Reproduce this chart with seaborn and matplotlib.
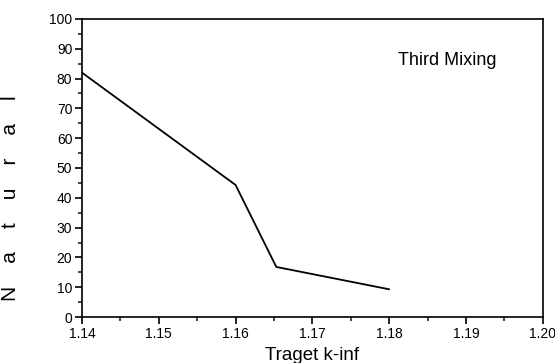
import matplotlib
matplotlib.use("Agg")
import matplotlib.pyplot as plt
from matplotlib.ticker import MultipleLocator
import seaborn as sns

# values
k_inf = [1.14, 1.16, 1.1653, 1.18]
natural = [82.0, 44.3, 16.8, 9.3]
x_ticks = [1.14, 1.15, 1.16, 1.17, 1.18, 1.19, 1.20]
y_ticks = [0, 10, 20, 30, 40, 50, 60, 70, 80, 90, 100]

sns.set_style("ticks")
plt.rcParams['font.family'] = ['Liberation Sans', 'DejaVu Sans']
plt.rcParams['text.color'] = 'black'
plt.rcParams['axes.labelcolor'] = 'black'

fig, ax = plt.subplots(figsize=(5.55, 3.63), dpi=100)
fig.subplots_adjust(left=0.1477, right=0.978, top=0.9477, bottom=0.1267)

sns.lineplot(x=k_inf, y=natural, ax=ax, color='black', linewidth=1.3)

ax.set_xlim(1.14, 1.20)
ax.set_ylim(0, 100)
ax.set_xticks(x_ticks)
ax.set_xticklabels([f'{v:.2f}' for v in x_ticks])
ax.set_yticks(y_ticks)
ax.xaxis.set_minor_locator(MultipleLocator(0.005))
ax.yaxis.set_minor_locator(MultipleLocator(5))
ax.tick_params(axis='both', which='major', direction='out', length=5, width=1.2,
               labelsize=10, pad=2, colors='black')
ax.tick_params(axis='both', which='minor', direction='out', length=3, width=1.2)

for side in ['bottom', 'top', 'left', 'right']:
    ax.spines[side].set_visible(True)
    ax.spines[side].set_color('black')
    ax.spines[side].set_linewidth(1.2)

ax.set_xlabel('Traget k-inf', fontsize=13.5)
ax.xaxis.set_label_coords(0.5, -0.1)
ax.set_ylabel('N    a    t    u    r    a    l', fontsize=15)
ax.yaxis.set_label_coords(-0.135, 0.40)

ax.text(0.792, 0.862, 'Third Mixing', transform=ax.transAxes, fontsize=13,
        ha='center', va='center')

fig.savefig('out.png', dpi=100)
